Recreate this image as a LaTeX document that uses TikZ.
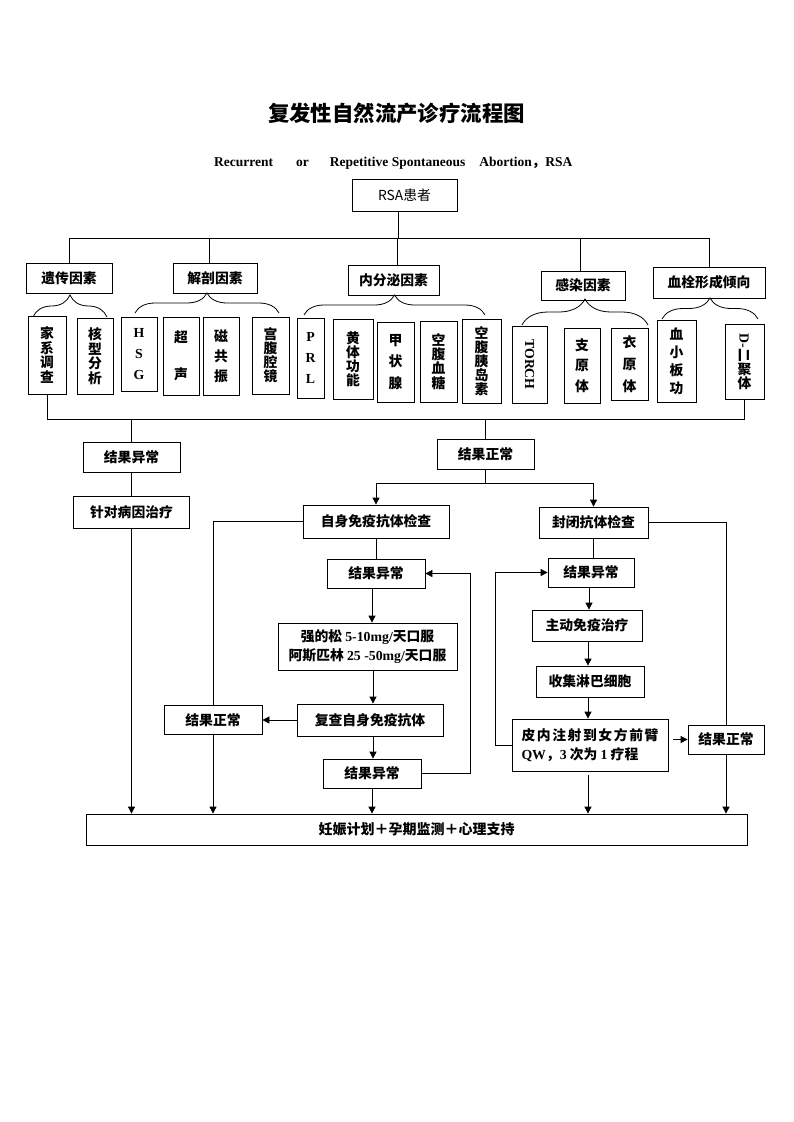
\documentclass[tikz,border=0pt]{standalone}
\usepackage{fontspec}
\setmainfont{Liberation Serif}
\newfontfamily\cjk{Noto Sans CJK SC}
\usetikzlibrary{arrows.meta,decorations.pathreplacing}
\newcommand{\latb}[1]{{\rmfamily\bfseries #1}}
\begin{document}
\begin{tikzpicture}[x=1pt,y=-1pt,
  box/.style={draw, line width=0.8pt, align=center, inner sep=0pt,
    font=\cjk\bfseries\fontsize{13.8}{19}\selectfont},
  vbox/.style={draw, line width=0.8pt, align=center, inner sep=0pt,
    font=\cjk\bfseries\fontsize{13.8}{#1}\selectfont},
  ln/.style={line width=0.8pt},
  arr/.style={line width=0.8pt, -{Triangle[length=7pt,width=7pt]}},
  brc/.style={line width=0.8pt, decorate, decoration={brace, amplitude=#1}},
]
\useasboundingbox (0,0) rectangle (793,1122);

% title
\node[font=\cjk\bfseries\fontsize{21.4}{24}\selectfont, inner sep=0pt] (title) at (396.5,113) {复发性自然流产诊疗流程图};
\node[anchor=west, font=\bfseries\fontsize{13.5}{16}\selectfont, inner sep=0pt] (sub) at (214,163)
  {Recurrent\hspace{23pt}or\hspace{21pt}Repetitive Spontaneous\hspace{14pt}Abortion{\cjk ，}RSA};

\node[box, font=\cjk\fontsize{13.8}{16}\selectfont, minimum width=105, minimum height=32] (rsa) at (404.5,195) {RSA患者};

% level 1
\node[box, minimum width=86, minimum height=30] (yc) at (69,278) {遗传因素};
\node[box, minimum width=84, minimum height=30] (jp) at (215,278) {解剖因素};
\node[box, minimum width=91, minimum height=30] (nf) at (393.5,280) {内分泌因素};
\node[box, minimum width=84, minimum height=29] (gr) at (583,285.5) {感染因素};
\node[box, minimum width=112, minimum height=31] (xs) at (709,282.5) {血栓形成倾向};

% coordinates
\coordinate (bar) at (0,238);
\coordinate (bar2) at (0,419);
\coordinate (y483) at (0,483);
\coordinate (c398) at (398,0);
\coordinate (c209) at (209,0);
\coordinate (c397) at (397,0);
\coordinate (c580) at (580,0);
\coordinate (c372) at (372,0);
\coordinate (c373) at (373,0);
\coordinate (c470) at (470,0);
\coordinate (c495) at (495,0);
\coordinate (c588) at (588,0);
\coordinate (c589) at (589,0);

\draw[ln] (rsa.south -| c398) -- (c398 |- bar);
\draw[ln] (yc.north) -- (yc.north |- bar) -- (xs.north |- bar) -- (xs.north);
\draw[ln] (jp.north -| c209) -- (c209 |- bar);
\draw[ln] (nf.north -| c397) -- (c397 |- bar);
\draw[ln] (gr.north -| c580) -- (c580 |- bar);

% braces
\draw[brc=22] (33,317) -- (107,317);
\draw[brc=20] (135,313) -- (279,313);
\draw[brc=20] (304,315) -- (485,315);
\draw[brc=26] (522,325) -- (648,325);
\draw[brc=21] (662,319) -- (758,319);

% level 2 vertical boxes
\node[vbox=14.5, minimum width=38, minimum height=78] (jx) at (47,355) {家\\系\\调\\查};
\node[vbox=14.5, minimum width=36, minimum height=76] (hx) at (95,356) {核\\型\\分\\析};
\node[vbox=21, minimum width=36, minimum height=74] (hsg) at (139,354) {\latb{H}\\\latb{S}\\\latb{G}};
\node[vbox=37, minimum width=36, minimum height=78] (cs) at (181,356) {超\\声};
\node[vbox=20, minimum width=36, minimum height=78] (cg) at (221,356) {磁\\共\\振};
\node[vbox=14, minimum width=37, minimum height=77] (gf) at (270.5,355.5) {宫\\腹\\腔\\镜};
\node[vbox=21, minimum width=27, minimum height=80] (prl) at (310.5,358) {\latb{P}\\\latb{R}\\\latb{L}};
\node[vbox=14, minimum width=40, minimum height=80] (ht) at (353,359) {黄\\体\\功\\能};
\node[vbox=21.5, minimum width=37, minimum height=80] (jz) at (395.5,362) {甲\\状\\腺};
\node[vbox=14.2, minimum width=37, minimum height=81] (kt) at (438.5,361.5) {空\\腹\\血\\糖};
\node[vbox=14, minimum width=39, minimum height=84] (kd) at (481.5,361) {空\\腹\\胰\\岛\\素};
\node[vbox=14, minimum width=35, minimum height=77] (torch) at (529.5,364.5) {\rotatebox{-90}{\latb{TORCH}}};
\node[vbox=20.5, minimum width=36, minimum height=75] (zyt) at (582,365.5) {支\\原\\体};
\node[vbox=22, minimum width=37, minimum height=72] (yyt) at (629.5,364) {衣\\原\\体};
\node[vbox=18, minimum width=39, minimum height=82] (xb) at (676.5,361) {血\\小\\板\\功};
\node[vbox=13, minimum width=39, minimum height=75] (dd) at (744.5,361.5) {\rotatebox{-90}{\latb{D-}二}\\聚\\体};

% bottom bar
\draw[ln] (jx.south) -- (jx.south |- bar2) -- (dd.south |- bar2) -- (dd.south);

% result boxes
\node[box, minimum width=97, minimum height=30] (ab) at (131.5,457) {结果异常};
\node[box, minimum width=116, minimum height=32] (zl) at (131.5,512) {针对病因治疗};
\node[box, minimum width=97, minimum height=30] (zc) at (485.5,454) {结果正常};
\node[box, minimum width=146, minimum height=33] (zm) at (376,521.5) {自身免疫抗体检查};
\node[box, minimum width=109, minimum height=31] (fb) at (593.5,522.5) {封闭抗体检查};
\node[box, minimum width=98, minimum height=29] (ya) at (376,573.5) {结果异常};
\node[box, minimum width=179, minimum height=47] (qs) at (367.5,646.5)
  {强的松 \latb{5-10mg/}天口服\\阿斯匹林 \latb{25 -50mg/}天口服};
\node[box, minimum width=146, minimum height=32] (fc) at (370,720) {复查自身免疫抗体};
\node[box, minimum width=98, minimum height=29] (zn) at (213,720) {结果正常};
\node[box, minimum width=98, minimum height=29] (yb) at (372,773.5) {结果异常};
\node[box, minimum width=86, minimum height=29] (yr) at (591,572.5) {结果异常};
\node[box, minimum width=110, minimum height=31] (zd) at (587,625.5) {主动免疫治疗};
\node[box, minimum width=108, minimum height=31] (sj) at (590,681.5) {收集淋巴细胞};
\node[box, align=left, minimum width=156, minimum height=52] (pn) at (590,745)
  {皮\kern1.6pt 内\kern1.6pt 注\kern1.6pt 射\kern1.6pt 到\kern1.6pt 女\kern1.6pt 方\kern1.6pt 前\kern1.6pt 臂\\\latb{QW}，\latb{3} 次为 \latb{1} 疗程};
\node[box, minimum width=76, minimum height=29] (zr) at (726,739.5) {结果正常};
\node[box, font=\cjk\bfseries\fontsize{14}{16}\selectfont, minimum width=661, minimum height=31] (bt) at (416.5,829.5) {妊娠计划＋孕期监测＋心理支持};

% connectors
\draw[ln] (ab.north |- bar2) -- (ab.north);
\draw[ln] (zc.north |- bar2) -- (zc.north);
\draw[ln] (ab) -- (zl);
\draw[arr] (zl.south) -- (zl.south |- bt.north);
\draw[ln] (zc.south) -- (zc.south |- y483);
\draw[arr] (zc.south |- y483) -| (zm.north);
\draw[arr] (zc.south |- y483) -| (fb.north);
\draw[ln] (zm.west) -| (zn.north);
\draw[arr] (zn.south) -- (zn.south |- bt.north);
\draw[ln] (zm.south) -- (ya.north);
\draw[arr] (ya.south -| c372) -- (qs.north -| c372);
\draw[arr] (qs.south -| c373) -- (fc.north -| c373);
\draw[arr] (fc.west) -- (zn.east);
\draw[arr] (fc.south -| c373) -- (yb.north -| c373);
\draw[arr] (yb.south) -- (yb.south |- bt.north);
\draw[arr] (yb.east) -| (c470 |- ya.east) -- (ya.east);

\draw[ln] (fb.south) -- (fb.south |- yr.north);
\draw[arr] (yr.south -| c589) -- (zd.north -| c589);
\draw[arr] (zd.south -| c588) -- (sj.north -| c588);
\draw[arr] (sj.south -| c588) -- (pn.north -| c588);
\draw[arr, shorten <=5pt] (pn.east |- zr.west) -- (zr.west);
\draw[ln] (fb.east) -| (zr.north);
\draw[arr] (zr.south) -- (zr.south |- bt.north);
\draw[arr, shorten <=4pt] (pn.south -| c588) -- (c588 |- bt.north);
\draw[arr] (pn.west) -| (c495 |- yr.west) -- (yr.west);
\end{tikzpicture}
\end{document}
